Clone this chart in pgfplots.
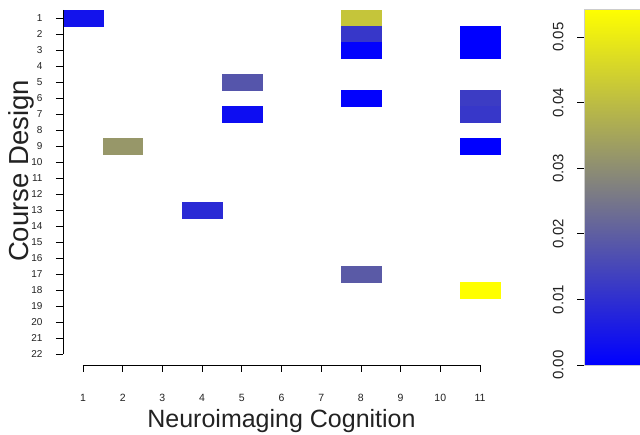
\documentclass[border=0pt]{standalone}
\usepackage{fontspec}
\setmainfont{Liberation Sans}
\usepackage{pgfplots}
\pgfplotsset{compat=1.18}
\definecolor{txt}{HTML}{222222}
\pgfplotsset{
  ralike/.style={
    scale only axis, anchor=south west,
    tick align=outside, major tick length=7pt,
    tick style={black, line width=0.8pt},
    /pgf/number format/assume math mode=true,
  },
}
\begin{document}
\begin{tikzpicture}
\useasboundingbox (0pt,0pt) rectangle (640pt,435pt);

% heatmap cells
\begin{axis}[
  at={(63pt,73pt)}, anchor=south west, scale only axis,
  width=437pt, height=352pt,
  xmin=0.5, xmax=11.5, ymin=0.5, ymax=22.5, y dir=reverse,
  hide axis,
  colormap={bgy}{rgb255=(0,0,255) rgb255=(128,128,128) rgb255=(255,255,0)},
  point meta min=0, point meta max=0.0543,
  colorbar,
  colorbar/width=70pt,
  colorbar style={
    at={(parent axis.north east)}, anchor=north west,
    xshift=75.5pt, yshift=1pt,
    scale only axis, height=356pt,
    scaled y ticks=false,
    ytick={0,0.01,0.02,0.03,0.04,0.05},
    ytick pos=left, yticklabel pos=left,
    tick align=outside, major tick length=7pt,
    tick style={black, line width=0.8pt},
    axis line style={gray!40, line width=0.4pt},
    yticklabel shift=10pt,
    yticklabel style={rotate=90, anchor=south, text=txt,
      font=\fontsize{15}{15}\selectfont,
      /pgf/number format/.cd, fixed, fixed zerofill, precision=2,
      assume math mode=true},
  },
]
\addplot[scatter, only marks, mark=square*, mark size=8pt,
  scatter/use mapped color={draw=mapped color, fill=mapped color},
  every mark/.append style={xscale=2.483, line width=0.2pt},
  point meta=explicit]
  table[meta=v] {
x  y  v
1  1  0.0040
2  9  0.0320
4  13 0.0090
5  5  0.0180
5  7  0.0027
8  1  0.0420
8  2  0.0116
8  3  0.0005
8  6  0.0005
8  17 0.0190
11 2  0.0000
11 3  0.0000
11 6  0.0127
11 7  0.0116
11 9  0.0000
11 18 0.0543
};
\end{axis}

% y axis (R style)
\begin{axis}[ralike,
  at={(63pt,81pt)}, width=10pt, height=344pt,
  xmin=0, xmax=1, ymin=0.5, ymax=22, y dir=reverse,
  axis lines*=left,
  x axis line style={draw=none},
  y axis line style={black, line width=0.8pt},
  xtick=\empty,
  ytick={1,...,22},
  yticklabel shift=10pt,
  yticklabel style={font=\fontsize{10}{10}\selectfont, text=txt},
  ylabel={Course Design},
  ylabel style={at={(axis description cs:-3.4,0.532)}, anchor=base,
    font=\fontsize{27.5}{27.5}\selectfont, text=txt},
]
\end{axis}

% x axis (R style)
\begin{axis}[ralike,
  at={(83pt,70pt)}, width=397pt, height=10pt,
  xmin=1, xmax=11, ymin=0, ymax=1,
  axis lines*=left,
  y axis line style={draw=none},
  x axis line style={black, line width=0.8pt},
  ytick=\empty,
  xtick={1,...,11},
  xticklabel style={font=\fontsize{10.5}{10.5}\selectfont, text=txt, yshift=-19pt},
  xlabel={Neuroimaging Cognition},
  xlabel style={at={(axis description cs:0.5,-6.3)}, anchor=base,
    font=\fontsize{25}{25}\selectfont, text=txt},
]
\end{axis}
\end{tikzpicture}
\end{document}
